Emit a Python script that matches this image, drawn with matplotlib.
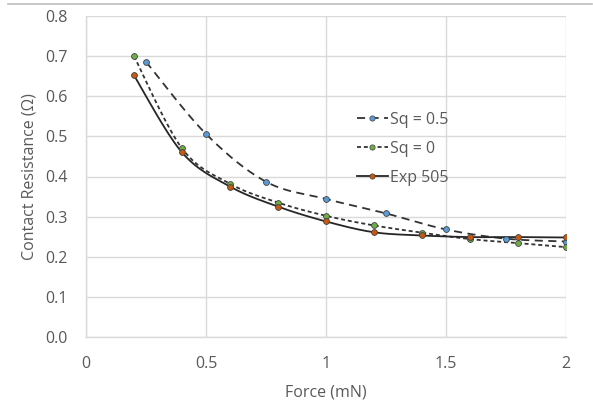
import numpy as np
import matplotlib
matplotlib.use("Agg")
import matplotlib.pyplot as plt
from matplotlib.lines import Line2D

plt.rcParams['font.family'] = ['Open Sans', 'DejaVu Sans']

x_sq05 = [0.25, 0.5, 0.75, 1.0, 1.25, 1.5, 1.75, 2.0]
y_sq05 = [0.686, 0.506, 0.387, 0.344, 0.308, 0.268, 0.245, 0.238]

x_sq0 = [0.2, 0.4, 0.6, 0.8, 1.0, 1.2, 1.4, 1.6, 1.8, 2.0]
y_sq0 = [0.700, 0.470, 0.382, 0.335, 0.302, 0.278, 0.260, 0.244, 0.234, 0.224]

x_exp = [0.2, 0.4, 0.6, 0.8, 1.0, 1.2, 1.4, 1.6, 1.8, 2.0]
y_exp = [0.652, 0.460, 0.375, 0.325, 0.288, 0.261, 0.253, 0.249, 0.249, 0.248]

labels = ["Sq = 0.5", "Sq = 0", "Exp 505"]
xticks = [0, 0.5, 1, 1.5, 2]
xtick_labels = ["0", "0.5", "1", "1.5", "2"]
yticks = [0.0, 0.1, 0.2, 0.3, 0.4, 0.5, 0.6, 0.7, 0.8]


def smooth(xs, ys, n=20):
    # Excel-like smoothed line: Bezier segments with Catmull-Rom control points
    xs = np.asarray(xs, float); ys = np.asarray(ys, float)
    P = np.column_stack([xs, ys])
    out = [P[0]]
    for i in range(len(P) - 1):
        p0 = P[i - 1] if i > 0 else P[i]
        p1 = P[i]; p2 = P[i + 1]
        p3 = P[i + 2] if i + 2 < len(P) else P[i + 1]
        c1 = p1 + (p2 - p0) / 6.0
        c2 = p2 - (p3 - p1) / 6.0
        t = np.linspace(0, 1, n)[1:, None]
        B = ((1 - t) ** 3) * p1 + 3 * ((1 - t) ** 2) * t * c1 + 3 * (1 - t) * t ** 2 * c2 + t ** 3 * p2
        out.extend(B)
    out = np.array(out)
    return out[:, 0], out[:, 1]


fig = plt.figure(figsize=(5.93, 4.08), dpi=100)
ax = fig.add_axes([86 / 593, 1 - 337 / 408, (566 - 86) / 593, (337 - 16) / 408])

grid_c = '#d9d9d9'
text_c = '#595959'
fs = 11.5

styles = [
    dict(color='#333333', ls=(0, (4.5, 3)), lw=1.3, mfc='#5b9bd5'),
    dict(color='#333333', ls=(0, (2.2, 1.6)), lw=1.3, mfc='#70ad47'),
    dict(color='#262626', ls='-', lw=1.3, mfc='#c55a11'),
]
data = [(x_sq05, y_sq05), (x_sq0, y_sq0), (x_exp, y_exp)]

handles = []
for (xs, ys), st, lab in zip(data, styles, labels):
    sx, sy = smooth(xs, ys)
    ax.plot(sx, sy, color=st['color'], ls=st['ls'], lw=st['lw'], zorder=3)
    ax.plot(xs, ys, ls='none', marker='o', ms=4.2, mfc=st['mfc'], mec='#404040', mew=0.6, zorder=4)
    handles.append(Line2D([0], [0], color=st['color'], ls=st['ls'], lw=st['lw'],
                          marker='o', ms=3.8, mfc=st['mfc'], mec='#404040', mew=0.5))

ax.set_xlim(0, 2)
ax.set_ylim(0, 0.8)
ax.set_xticks(xticks)
ax.set_xticklabels(xtick_labels)
ax.set_yticks(yticks)
ax.set_yticklabels([f"{v:.1f}" for v in yticks])
ax.grid(True, color=grid_c, lw=1.0, zorder=0)
ax.set_axisbelow(True)
for s in ['top', 'right']:
    ax.spines[s].set_visible(False)
for s in ['left', 'bottom']:
    ax.spines[s].set_color(grid_c)
    ax.spines[s].set_linewidth(1.0)
ax.tick_params(length=0, labelsize=fs, colors=text_c)
ax.tick_params(axis='x', pad=14)
ax.tick_params(axis='y', pad=13)
ax.set_xlabel("Force (mN)", fontsize=fs, color=text_c, labelpad=9)
ax.set_ylabel("Contact Resistance (Ω)", fontsize=fs, color=text_c, labelpad=6)

leg = ax.legend(handles, labels, loc='center left', bbox_to_anchor=(0.565, 0.586),
                frameon=False, fontsize=fs, handlelength=1.9, handletextpad=0.15,
                labelspacing=0.82, labelcolor=text_c, borderpad=0, borderaxespad=0)

fig.add_artist(Line2D([8 / 593, 592 / 593], [1 - 3.5 / 408, 1 - 3.5 / 408],
                      color='#bfbfbf', lw=1.2, transform=fig.transFigure))

fig.savefig("out.png", dpi=100)
